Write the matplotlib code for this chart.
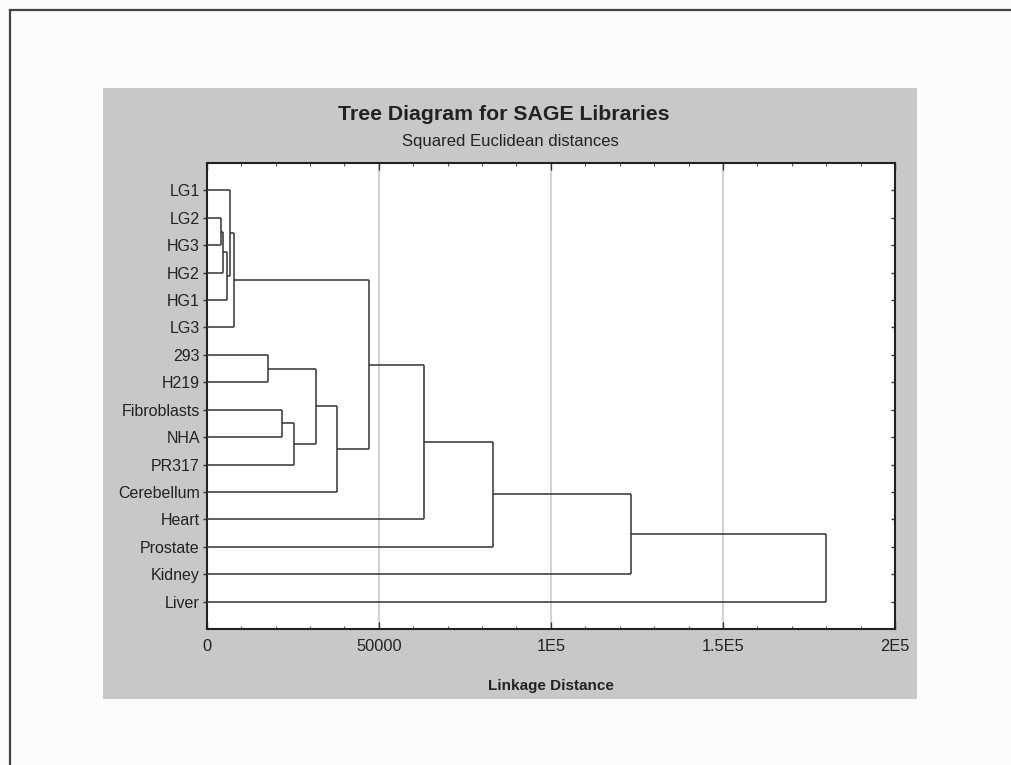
import matplotlib
matplotlib.use("Agg")
import matplotlib.pyplot as plt
from matplotlib.patches import Rectangle
from matplotlib.lines import Line2D

# ---- data ----
leaf_labels = ["LG1", "LG2", "HG3", "HG2", "HG1", "LG3", "293", "H219",
               "Fibroblasts", "NHA", "PR317", "Cerebellum", "Heart",
               "Prostate", "Kidney", "Liver"]
# merges: node ids 0..15 are leaves, new nodes start at 16
merge_a = [1, 16, 17, 0, 19, 6, 8, 22, 21, 24, 20, 26, 27, 28, 29]
merge_b = [2, 3, 4, 18, 5, 7, 9, 10, 23, 11, 25, 12, 13, 14, 15]
merge_dist = [4200, 4800, 5800, 6800, 8000, 17900, 21900, 25400, 31900,
              37800, 47200, 63100, 83100, 123200, 180000]
x_ticks = [0, 50000, 100000, 150000, 200000]
x_tick_labels = ["0", "50000", "1E5", "1.5E5", "2E5"]
title = "Tree Diagram for SAGE Libraries"
subtitle = "Squared Euclidean distances"
xlabel = "Linkage Distance"

plt.rcParams['font.family'] = ['Liberation Sans', 'DejaVu Sans']

W, H = 1012, 765
fig = plt.figure(figsize=(W / 100, H / 100), dpi=100)
fig.patch.set_facecolor("#fcfcfc")

# gray panel
fig.patches.append(Rectangle((103 / W, 1 - 699 / H), (917 - 103) / W, (699 - 88) / H,
                             transform=fig.transFigure, facecolor="#c8c8c8",
                             edgecolor="none", zorder=-5))
# outer frame lines
fig.lines.append(Line2D([10 / W, 10 / W], [0, 1 - 10 / H], transform=fig.transFigure,
                        color="#444444", lw=1.6, zorder=-4))
fig.lines.append(Line2D([10 / W, 1], [1 - 10 / H, 1 - 10 / H], transform=fig.transFigure,
                        color="#444444", lw=1.6, zorder=-4))

ax_l, ax_r, ax_t, ax_b = 206.7, 895, 163, 629
ax = fig.add_axes([ax_l / W, 1 - ax_b / H, (ax_r - ax_l) / W, (ax_b - ax_t) / H])
ax.set_zorder(2)
ax.set_facecolor("white")

n = len(leaf_labels)
pos = {i: i + 1 for i in range(n)}
height = {i: 0.0 for i in range(n)}
line_kw = dict(color="#333333", lw=1.1, solid_capstyle="butt", zorder=3)
for k, (a, b, d) in enumerate(zip(merge_a, merge_b, merge_dist)):
    node = n + k
    ya, yb = pos[a], pos[b]
    ax.plot([height[a], d], [ya, ya], **line_kw)
    ax.plot([height[b], d], [yb, yb], **line_kw)
    ax.plot([d, d], [ya, yb], **line_kw)
    pos[node] = (ya + yb) / 2
    height[node] = d

ax.set_xlim(0, 200000)
ax.set_ylim(17, 0)
ax.set_xticks(x_ticks)
ax.set_xticklabels(x_tick_labels)
ax.set_xticks(range(0, 200001, 10000), minor=True)
ax.set_yticks(range(1, n + 1))
ax.set_yticklabels(leaf_labels)
for g in x_ticks[1:-1]:
    ax.axvline(g, color="#cfcfcf", lw=1.3, zorder=1)

ax.tick_params(axis="x", which="major", direction="in", top=True, bottom=True,
               length=5, width=1, color="#333333", labelsize=11.8, pad=7,
               labelcolor="#222222")
ax.tick_params(axis="x", which="minor", direction="in", top=True, bottom=True,
               length=2.5, width=0.8, color="#555555")
ax.tick_params(axis="y", which="major", direction="out", left=True,
               length=3, width=1, color="#333333", labelsize=11.5, pad=2,
               labelcolor="#222222")
sec = ax.secondary_yaxis("right")
sec.set_yticks(range(1, n + 1))
sec.tick_params(direction="in", length=3, width=1, color="#333333", labelright=False)
sec.spines["right"].set_visible(False)

for s in ax.spines.values():
    s.set_color("#222222")
    s.set_linewidth(1.5)

fig.text(504 / W, 1 - 114 / H, title, ha="center", va="center",
         fontsize=15.3, fontweight="bold", color="#222222")
fig.text(510 / W, 1 - 141.5 / H, subtitle, ha="center", va="center",
         fontsize=12, color="#222222")
fig.text(551 / W, 1 - 686 / H, xlabel, ha="center", va="center",
         fontsize=11, fontweight="bold", color="#222222")

fig.savefig("out.png", dpi=100, facecolor=fig.get_facecolor())
